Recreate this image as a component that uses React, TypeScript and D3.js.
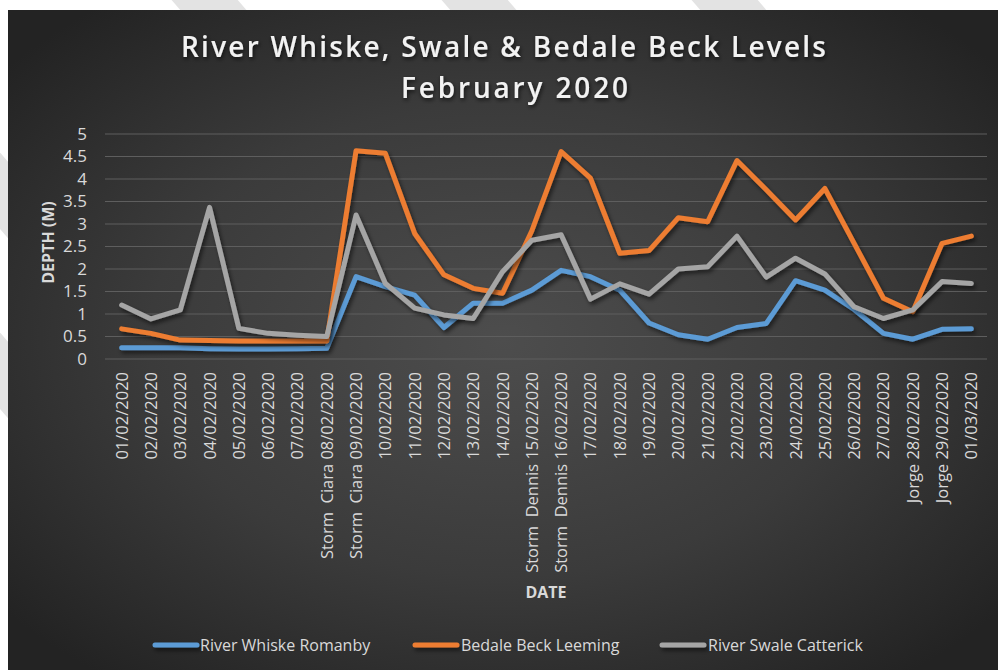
import React, { useEffect } from "react";
import * as d3 from "d3";

const dates = [
  "01/02/2020", "02/02/2020", "03/02/2020", "04/02/2020", "05/02/2020",
  "06/02/2020", "07/02/2020", "Storm  Ciara 08/02/2020", "Storm  Ciara 09/02/2020",
  "10/02/2020", "11/02/2020", "12/02/2020", "13/02/2020", "14/02/2020",
  "Storm  Dennis 15/02/2020", "Storm  Dennis 16/02/2020", "17/02/2020",
  "18/02/2020", "19/02/2020", "20/02/2020", "21/02/2020", "22/02/2020",
  "23/02/2020", "24/02/2020", "25/02/2020", "26/02/2020", "27/02/2020",
  "Jorge 28/02/2020", "Jorge 29/02/2020", "01/03/2020",
];

const whiskeRomanby = [
  0.25, 0.25, 0.25, 0.23, 0.22, 0.22, 0.23, 0.24, 1.83, 1.61,
  1.42, 0.7, 1.24, 1.24, 1.53, 1.97, 1.83, 1.53, 0.8, 0.54,
  0.44, 0.7, 0.79, 1.74, 1.53, 1.1, 0.57, 0.44, 0.66, 0.67,
];

const bedaleLeeming = [
  0.67, 0.57, 0.42, 0.41, 0.4, 0.4, 0.4, 0.4, 4.63, 4.57,
  2.79, 1.87, 1.57, 1.46, 2.85, 4.61, 4.02, 2.35, 2.41, 3.14,
  3.05, 4.41, 3.76, 3.09, 3.79, 2.57, 1.35, 1.05, 2.57, 2.73,
];

const swaleCatterick = [
  1.2, 0.89, 1.09, 3.37, 0.68, 0.57, 0.53, 0.5, 3.2, 1.68,
  1.13, 0.98, 0.9, 1.94, 2.64, 2.76, 1.33, 1.67, 1.44, 2.0,
  2.05, 2.73, 1.82, 2.24, 1.89, 1.16, 0.9, 1.09, 1.72, 1.68,
];

const yTicks = [0, 0.5, 1, 1.5, 2, 2.5, 3, 3.5, 4, 4.5, 5];

const seriesNames = ["River Whiske Romanby", "Bedale Beck Leeming", "River Swale Catterick"];
const seriesColors = ["#5b9bd5", "#ed7d31", "#a5a5a5"];
const seriesValues = [whiskeRomanby, bedaleLeeming, swaleCatterick];

const W = 998;
const H = 670;
const FONT = "'Open Sans', 'DejaVu Sans', sans-serif";

export default function App() {
  useEffect(() => {
    document.body.style.margin = "0";
    document.body.style.overflow = "hidden";
  }, []);

  const x = d3.scalePoint<string>().domain(dates).range([107, 986]).padding(0.5);
  const y = d3.scaleLinear().domain([0, 5]).range([359, 134]);

  const line = d3
    .line<number>()
    .x((_, i) => x(dates[i]) as number)
    .y((d) => y(d));

  const legendItems = [
    { lx: 155, tx: 200 },
    { lx: 415, tx: 461 },
    { lx: 662, tx: 708 },
  ];

  const stripes = [
    [170, 0], [440, 0], [690, 0], [-70, 150], [-70, 330],
  ];

  return (
    <div style={{ position: "absolute", left: 0, top: 0, width: W, height: H }}>
      <svg width={W} height={H} style={{ display: "block" }}>
        <defs>
          <radialGradient id="bg" cx="50%" cy="50%" r="65%">
            <stop offset="0%" stopColor="#4d4d4d" />
            <stop offset="55%" stopColor="#3b3b3b" />
            <stop offset="100%" stopColor="#232323" />
          </radialGradient>
          <filter id="lineShadow" filterUnits="userSpaceOnUse" x="0" y="0" width={W} height={H}>
            <feDropShadow dx="2" dy="3" stdDeviation="2" floodColor="#000" floodOpacity="0.55" />
          </filter>
          <filter id="textGlow" x="-10%" y="-30%" width="120%" height="160%">
            <feDropShadow dx="1" dy="2" stdDeviation="2" floodColor="#000" floodOpacity="0.7" />
          </filter>
        </defs>

        <rect x={0} y={0} width={W} height={H} fill="#ffffff" />
        {stripes.map(([sx, sy], i) => (
          <line
            key={i}
            x1={sx}
            y1={sy - 40}
            x2={sx + 260}
            y2={sy + 260}
            stroke="#e3e3e3"
            strokeWidth={50}
          />
        ))}

        <rect x={8} y={10} width={W - 8} height={H - 10} fill="url(#bg)" />

        {/* Title */}
        <g filter="url(#textGlow)" fill="#f2f2f2" fontFamily={FONT} fontWeight={600}>
          <text x={503.5} y={57} textAnchor="middle" fontSize={28} textLength={645} lengthAdjust="spacing">
            River Whiske, Swale &amp; Bedale Beck Levels
          </text>
          <text x={514.5} y={98} textAnchor="middle" fontSize={28} textLength={227} lengthAdjust="spacing">
            February 2020
          </text>
        </g>

        {/* Gridlines */}
        {yTicks.map((t) => (
          <line
            key={t}
            x1={105}
            x2={987}
            y1={y(t)}
            y2={y(t)}
            stroke="#5e5e5e"
            strokeWidth={1}
          />
        ))}

        {/* Y tick labels */}
        {yTicks.map((t) => (
          <text
            key={"yl" + t}
            x={87}
            y={y(t)}
            dy="0.35em"
            textAnchor="end"
            fontFamily={FONT}
            fontSize={17}
            fill="#d9d9d9"
          >
            {String(t)}
          </text>
        ))}

        {/* Y axis title */}
        <text
          transform={`translate(54, ${(y(0) + y(5)) / 2 - 4}) rotate(-90)`}
          textAnchor="middle"
          fontFamily={FONT}
          fontWeight={700}
          fontSize={16}
          fill="#d9d9d9"
        >
          DEPTH (M)
        </text>

        {/* X tick labels */}
        {dates.map((d) => (
          <text
            key={d}
            transform={`translate(${(x(d) as number) + 6}, 372) rotate(-90)`}
            textAnchor="end"
            fontFamily={FONT}
            fontSize={16.5}
            fill="#d9d9d9"
            style={{ whiteSpace: "pre" }}
          >
            {d}
          </text>
        ))}

        {/* X axis title */}
        <text
          x={546}
          y={598}
          textAnchor="middle"
          fontFamily={FONT}
          fontWeight={700}
          fontSize={16}
          fill="#d9d9d9"
        >
          DATE
        </text>

        {/* Series lines */}
        {seriesValues.map((vals, i) => (
          <path
            key={seriesNames[i]}
            d={line(vals) || ""}
            fill="none"
            stroke={seriesColors[i]}
            strokeWidth={5}
            strokeLinejoin="round"
            strokeLinecap="round"
            filter="url(#lineShadow)"
          />
        ))}

        {/* Legend */}
        {seriesNames.map((name, i) => (
          <g key={"lg" + name}>
            <line
              x1={legendItems[i].lx}
              x2={legendItems[i].lx + 42}
              y1={645}
              y2={645}
              stroke={seriesColors[i]}
              strokeWidth={5}
              strokeLinecap="round"
              filter="url(#lineShadow)"
            />
            <text
              x={legendItems[i].tx}
              y={651}
              fontFamily={FONT}
              fontSize={16}
              fill="#d9d9d9"
            >
              {name}
            </text>
          </g>
        ))}
      </svg>
    </div>
  );
}
